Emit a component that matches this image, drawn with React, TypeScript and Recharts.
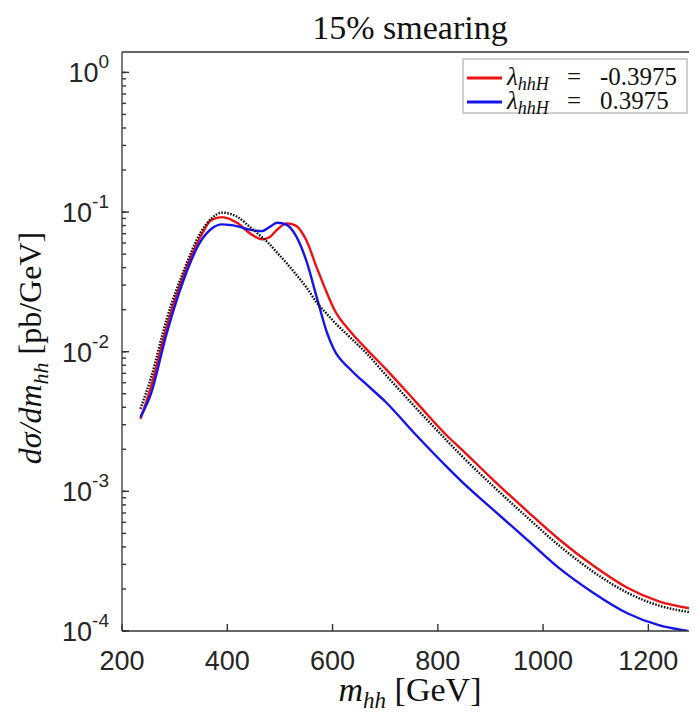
import React from "react";
import { LineChart, Line, XAxis, YAxis } from "recharts";

// m_hh grid [GeV]
const mhh = [235, 255, 285, 317, 349, 370, 390, 420, 445, 466, 480, 495, 513, 530, 550, 570, 590, 602, 635, 665, 700, 760, 820, 845, 905, 970, 1030, 1095, 1160, 1220, 1275, 1295];

// black dotted reference curve
const smCurve = [3.9e-3, 6.5e-3, 0.0172, 0.0378, 0.071, 0.09, 0.099, 0.092, 0.077, 0.066, 0.059, 0.051, 0.043, 0.036, 0.029, 0.0225, 0.0185, 0.0165, 0.0125, 0.0097, 0.0069, 0.0039, 0.00225, 0.0018, 0.00109, 0.00065, 0.00041, 0.000266, 0.000188, 0.000152, 0.000137, 0.000133];

// lambda_hhH = -0.3975 (red)
const lamNeg = [3.3e-3, 5.6e-3, 0.0152, 0.0354, 0.0665, 0.088, 0.092, 0.083, 0.0695, 0.0638, 0.066, 0.075, 0.083, 0.08, 0.063, 0.04, 0.026, 0.0205, 0.0138, 0.0104, 0.0076, 0.0043, 0.00245, 0.002, 0.00121, 0.00072, 0.000454, 0.000294, 0.000204, 0.000163, 0.000146, 0.000142];

// lambda_hhH = 0.3975 (blue), runs off the bottom after 1275
const lamPos = [3.4e-3, 5.0e-3, 0.0136, 0.0326, 0.0614, 0.076, 0.0816, 0.079, 0.0745, 0.073, 0.078, 0.0838, 0.081, 0.068, 0.045, 0.0245, 0.0135, 0.0105, 0.0074, 0.0058, 0.0044, 0.0025, 0.00146, 0.00118, 0.00074, 0.00045, 0.000283, 0.000188, 0.000134, 0.00011, 0.0001];

const xTicks = [200, 400, 600, 800, 1000, 1200];
const yMajor = [1e-4, 1e-3, 1e-2, 1e-1, 1];
const yMinorMult = [2, 3, 4, 5, 6, 7, 8, 9];

const yTicks = yMajor
  .slice(0, -1)
  .flatMap((d) => [d, ...yMinorMult.map((k) => k * d)])
  .concat([1]);

const data = mhh.map((m, i) => ({
  m,
  sm: smCurve[i],
  neg: lamNeg[i],
  pos: lamPos[i] ?? null,
}));

const AXIS = "#333333";
const TICK_FONT = "'Liberation Sans', Arial, Helvetica, sans-serif";
const SERIF = "'Liberation Serif', 'Times New Roman', serif";
const RED = "#ee1111";
const BLUE = "#1414ee";

const isMajor = (v: number) => yMajor.includes(v);

const XTickBottom = ({ x, y, payload }: any) => (
  <text x={x} y={y + 39} textAnchor="middle" fontSize={27} fill="#262626" fontFamily={TICK_FONT}>
    {payload.value}
  </text>
);

const NoTick = () => <g />;

// ticks point inward, majors a bit longer than minors
const YTickLeft = ({ x, y, payload }: any) => {
  const v = payload.value;
  if (!isMajor(v)) return <g />;
  const exp = Math.round(Math.log10(v));
  return (
    <g>
      <line x1={x} x2={x + 7} y1={y} y2={y} stroke={AXIS} strokeWidth={1.4} />
      <text x={x - 13} y={y + 10} textAnchor="end" fontSize={27} fill="#262626" fontFamily={TICK_FONT}>
        10
        <tspan dy={-14} fontSize={19}>
          {exp}
        </tspan>
      </text>
    </g>
  );
};

const YTickRight = ({ x, y, payload }: any) =>
  isMajor(payload.value) ? <line x1={x} x2={x - 7} y1={y} y2={y} stroke={AXIS} strokeWidth={1.4} /> : <g />;

const LegendRow = ({ y, color, value }: { y: number; color: string; value: string }) => (
  <g>
    <line x1={459} x2={494} y1={y} y2={y} stroke={color} strokeWidth={3} />
    <text y={y + 7} fontSize={25} fontFamily={SERIF} fill="#111">
      <tspan x={499} fontStyle="italic">
        λ
      </tspan>
      <tspan fontStyle="italic" fontSize={18} dy={5}>
        hhH
      </tspan>
      <tspan x={559} dy={-5}>
        =
      </tspan>
      <tspan x={592}>{value}</tspan>
    </text>
  </g>
);

export default function App() {
  return (
    <div style={{ position: "relative", width: 689, height: 706, overflow: "hidden", background: "#fff" }}>
      <LineChart width={720} height={706} data={data} margin={{ top: 43, right: 0, bottom: 43, left: 0 }}>
        <XAxis
          dataKey="m"
          type="number"
          domain={[200, 1300]}
          ticks={xTicks}
          interval={0}
          allowDataOverflow
          height={40}
          tickSize={-7}
          tickMargin={7}
          tickLine={{ stroke: AXIS, strokeWidth: 1.4 }}
          axisLine={{ stroke: AXIS, strokeWidth: 1.3 }}
          tick={<XTickBottom />}
        />
        <XAxis
          xAxisId="top"
          orientation="top"
          type="number"
          domain={[200, 1300]}
          ticks={xTicks}
          interval={0}
          height={1}
          tickSize={-7}
          tickMargin={7}
          tickLine={{ stroke: AXIS, strokeWidth: 1.4 }}
          axisLine={{ stroke: AXIS, strokeWidth: 1.3 }}
          tick={<NoTick />}
        />
        <YAxis
          scale="log"
          type="number"
          domain={[1e-4, 1.4]}
          allowDataOverflow
          ticks={yTicks}
          interval={0}
          width={114}
          tickSize={-4}
          tickMargin={4}
          tickLine={{ stroke: AXIS, strokeWidth: 1.4 }}
          axisLine={{ stroke: AXIS, strokeWidth: 1.3 }}
          tick={<YTickLeft />}
        />
        <YAxis
          yAxisId="right"
          orientation="right"
          scale="log"
          type="number"
          domain={[1e-4, 1.4]}
          allowDataOverflow
          ticks={yTicks}
          interval={0}
          width={27}
          tickSize={-4}
          tickMargin={4}
          tickLine={{ stroke: AXIS, strokeWidth: 1.4 }}
          axisLine={{ stroke: AXIS, strokeWidth: 1.3 }}
          tick={<YTickRight />}
        />
        <Line type="monotone" dataKey="neg" stroke={RED} strokeWidth={2.4} dot={false} isAnimationActive={false} />
        <Line type="monotone" dataKey="pos" stroke={BLUE} strokeWidth={2.4} dot={false} isAnimationActive={false} />
        <Line
          type="monotone"
          dataKey="sm"
          stroke="#111"
          strokeWidth={2.4}
          strokeDasharray="1.6 1.4"
          dot={false}
          isAnimationActive={false}
        />
      </LineChart>
      <svg width={720} height={706} style={{ position: "absolute", left: 0, top: 0, pointerEvents: "none" }}>
        <text x={402} y={31} textAnchor="middle" fontSize={34} fontFamily={SERIF} fill="#111">
          15% smearing
        </text>
        <text x={402} y={693} textAnchor="middle" fontSize={34} fontFamily={SERIF} fill="#111">
          <tspan fontStyle="italic">m</tspan>
          <tspan fontStyle="italic" fontSize={23} dy={7}>
            hh
          </tspan>
          <tspan dy={-7}> [GeV]</tspan>
        </text>
        <text
          transform="translate(33,340) rotate(-90)"
          textAnchor="middle"
          fontSize={32}
          fontFamily={SERIF}
          fill="#111"
        >
          <tspan fontStyle="italic">dσ/dm</tspan>
          <tspan fontStyle="italic" fontSize={22} dy={7}>
            hh
          </tspan>
          <tspan dy={-7}> [pb/GeV]</tspan>
        </text>
        <rect x={455} y={51} width={224} height={54} fill="#fff" stroke="#cfcfcf" strokeWidth={2} />
        <LegendRow y={70} color={RED} value="-0.3975" />
        <LegendRow y={94} color={BLUE} value="0.3975" />
      </svg>
    </div>
  );
}
